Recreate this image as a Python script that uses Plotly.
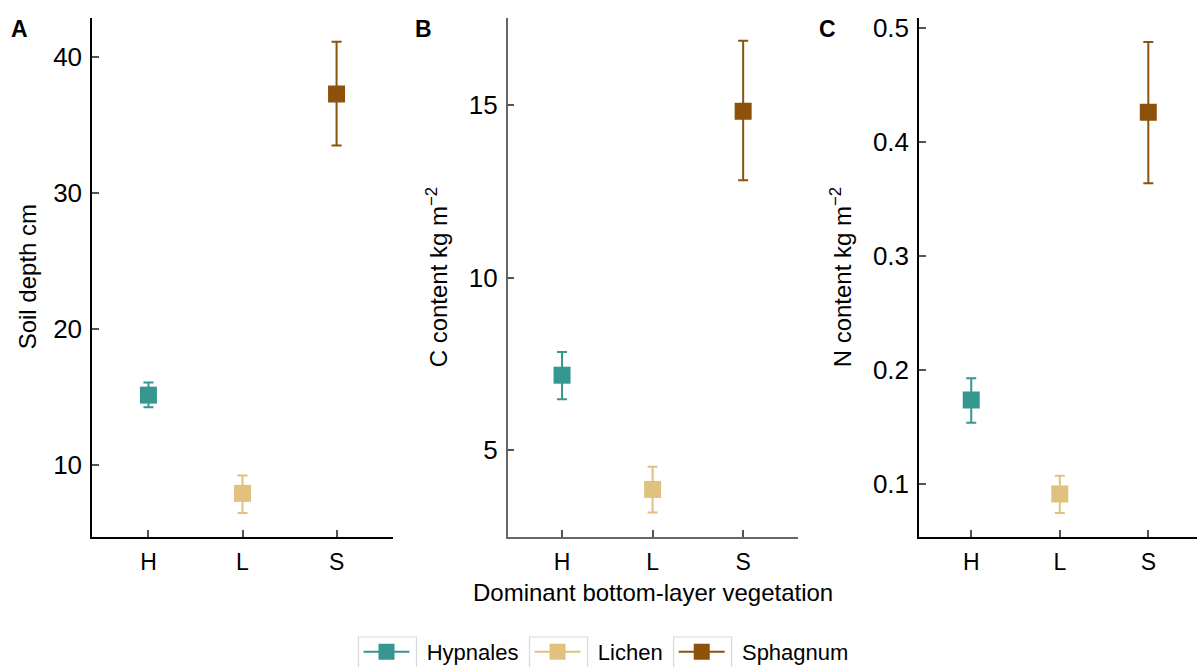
import plotly.graph_objects as go

categories = ["H", "L", "S"]
series_names = ["Hypnales", "Lichen", "Sphagnum"]
series_colors = ["#35978f", "#dfc27d", "#8c510a"]

soil_mean = [15.14, 7.92, 37.26]
soil_hi = [16.07, 9.24, 41.1]
soil_lo = [14.24, 6.49, 33.47]

c_mean = [7.17, 3.86, 14.82]
c_hi = [7.84, 4.52, 16.86]
c_lo = [6.47, 3.19, 12.82]

n_mean = [0.1737, 0.0912, 0.4263]
n_hi = [0.1927, 0.1073, 0.4879]
n_lo = [0.1538, 0.0746, 0.3639]

panels = [
    (soil_mean, soil_hi, soil_lo),
    (c_mean, c_hi, c_lo),
    (n_mean, n_hi, n_lo),
]

W, H = 1197, 667
FONT = "Liberation Sans, Arial, sans-serif"
NB = "\u00a0"

fig = go.Figure()
for p, (m, hi, lo) in enumerate(panels):
    for i, name in enumerate(series_names):
        fig.add_trace(go.Scatter(
            x=[categories[i]], y=[m[i]],
            mode="lines+markers",
            name=NB * 2 + name + NB,
            legendgroup=name,
            showlegend=(p == 0),
            marker=dict(symbol="square", size=17, color=series_colors[i], line=dict(width=0)),
            line=dict(color=series_colors[i], width=2),
            error_y=dict(type="data", symmetric=False,
                         array=[hi[i] - m[i]], arrayminus=[m[i] - lo[i]],
                         color=series_colors[i], thickness=2, width=5),
            xaxis=f"x{'' if p == 0 else p + 1}",
            yaxis=f"y{'' if p == 0 else p + 1}",
        ))

ybot = 1 - 536.7 / H
ytop = 1 - 18 / H
xdomains = [(92 / W, 393 / W), (507.7 / W, 797.5 / W), (919 / W, 1.0)]
xranges = [[-0.6, 2.6], [-0.6, 2.6], [-0.59, 2.55]]
yranges = [[4.74, 42.84], [2.49, 17.52], [0.0537, 0.509]]
ytickvals = [[10, 20, 30, 40], [5, 10, 15], [0.1, 0.2, 0.3, 0.4, 0.5]]
axis_colors = ["#000000", "#666666", "#000000"]

LEG_X = 358.5
layout = dict(
    width=W, height=H,
    margin=dict(l=0, r=0, t=0, b=0, autoexpand=False),
    paper_bgcolor="white", plot_bgcolor="white",
    font=dict(family=FONT, color="black"),
    legend=dict(orientation="h", x=LEG_X / W, xanchor="left", y=1 - 652 / H, yanchor="middle",
                font=dict(size=22, family=FONT), itemwidth=46, bgcolor="rgba(0,0,0,0)"),
)
for p in range(3):
    sx = "xaxis" if p == 0 else f"xaxis{p + 1}"
    sy = "yaxis" if p == 0 else f"yaxis{p + 1}"
    ax_id = "y" if p == 0 else f"y{p + 1}"
    xa_id = "x" if p == 0 else f"x{p + 1}"
    layout[sx] = dict(
        domain=list(xdomains[p]), anchor=ax_id, type="category",
        categoryorder="array", categoryarray=categories,
        range=xranges[p], showgrid=False, zeroline=False, automargin=False,
        showline=True, linecolor=axis_colors[p], linewidth=1.5,
        ticks="inside", ticklen=7, tickwidth=1.5, tickcolor="#555555",
        tickfont=dict(size=23, family=FONT, color="black"),
        ticklabelstandoff=4,
    )
    layout[sy] = dict(
        domain=[ybot, ytop], anchor=xa_id,
        range=yranges[p], tickvals=ytickvals[p],
        showgrid=False, zeroline=False, automargin=False,
        showline=True, linecolor=axis_colors[p], linewidth=1.5,
        ticks="inside", ticklen=7, tickwidth=1.5, tickcolor="#555555",
        tickfont=dict(size=26, family=FONT, color="black"),
        ticklabelstandoff=3,
    )
fig.update_layout(**layout)

ycenter = (ybot + ytop) / 2
ytitles = [("Soil depth cm", 27), ("C content kg m<sup>−2</sup>", 437), ("N content kg m<sup>−2</sup>", 841)]
for txt, xc in ytitles:
    fig.add_annotation(text=txt, x=xc / W, y=ycenter, xref="paper", yref="paper",
                       textangle=-90, showarrow=False, font=dict(size=24, family=FONT, color="black"),
                       xanchor="center", yanchor="middle")

fig.add_annotation(text="Dominant bottom-layer vegetation", x=652.6 / W, y=1 - 592 / H,
                   xref="paper", yref="paper", showarrow=False,
                   font=dict(size=24, family=FONT, color="black"), xanchor="center", yanchor="middle")

for lab, xc in [("A", 19.5), ("B", 423), ("C", 827)]:
    fig.add_annotation(text=f"<b>{lab}</b>", x=xc / W, y=1 - 29.5 / H, xref="paper", yref="paper",
                       showarrow=False, font=dict(size=23, family=FONT, color="black"),
                       xanchor="center", yanchor="middle")

# light frames around legend keys (decoration), following the legend item origins
for x0 in [LEG_X, LEG_X + 171.0, LEG_X + 315.1]:
    fig.add_shape(type="rect", xref="paper", yref="paper",
                  x0=x0 / W, x1=(x0 + 58) / W, y0=1 - 637 / H, y1=1 - 668 / H,
                  line=dict(color="#d9d9d9", width=1.2), fillcolor="rgba(0,0,0,0)", layer="below")

fig.write_html("out.html")
